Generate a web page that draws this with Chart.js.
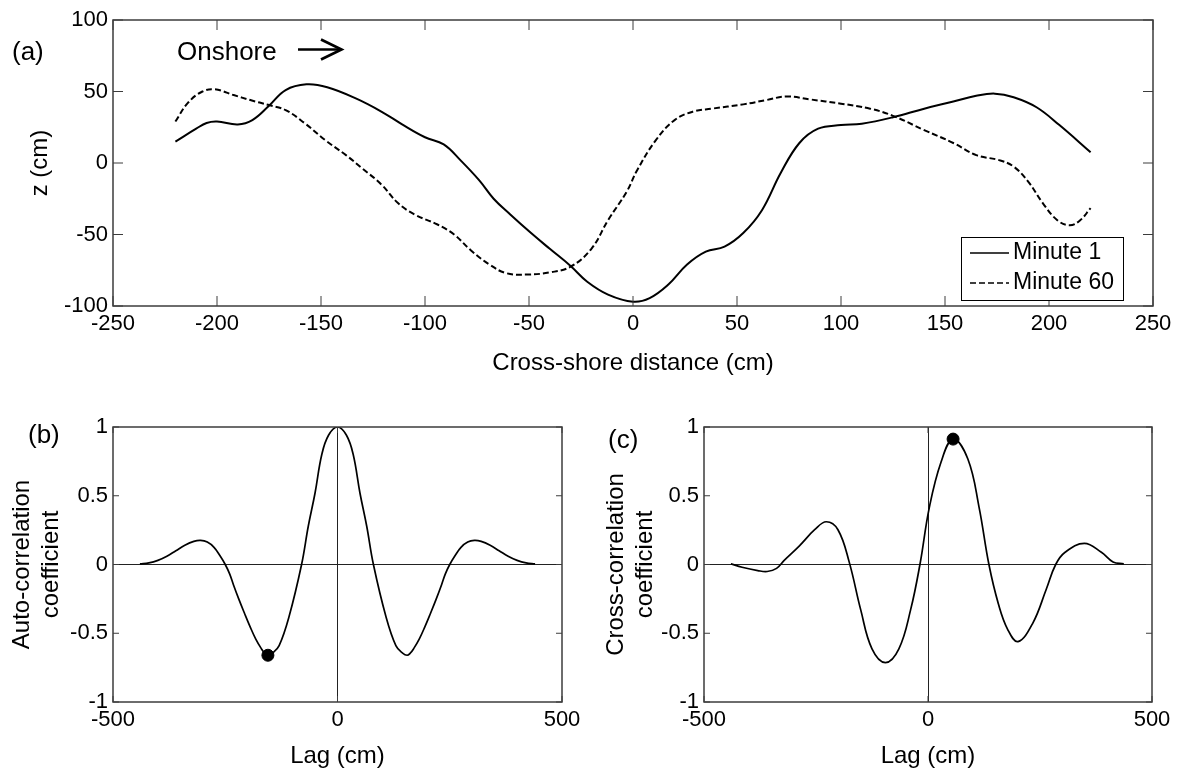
<!DOCTYPE html>
<html>
<head>
<meta charset="utf-8">
<script src="https://cdn.jsdelivr.net/npm/chart.js@4.4.0/dist/chart.umd.min.js"></script>
<style>
  body { margin: 0; background: #fff; width: 1189px; height: 771px; overflow: hidden; position: relative; font-family: "Liberation Sans", Arial, sans-serif; }
  canvas { position: absolute; }
  .lbl { position: absolute; font-size: 26px; color: #000; line-height: 1; white-space: nowrap; }
</style>
</head>
<body>
<canvas id="chartA" width="1189" height="385" style="left:0;top:0"></canvas>
<canvas id="chartB" width="590" height="381" style="left:0;top:390px"></canvas>
<canvas id="chartC" width="599" height="381" style="left:590px;top:390px"></canvas>
<div class="lbl" style="left:12px;top:38px">(a)</div>
<div class="lbl" style="left:177px;top:38px">Onshore</div>
<svg style="position:absolute;left:298px;top:37px" width="48" height="25">
  <line x1="0" y1="12.5" x2="43" y2="12.5" stroke="#000" stroke-width="2.7"/>
  <polyline points="23,2.5 43.5,12.5 23,22.5" fill="none" stroke="#000" stroke-width="2.7"/>
</svg>
<div class="lbl" style="left:28px;top:421px">(b)</div>
<div class="lbl" style="left:608px;top:426px">(c)</div>

<script>
// (a) beach profiles, cross-shore distance (cm) vs z (cm)
const xMinute1 = [-220,-210,-205,-200,-190,-183,-175,-167,-157,-147,-133,-121,-111,-100,-91,-83,-74,-67,-59,-49,-40,-30,-22,-12,0,8,17,26,35,44,53,62,71,80,89,100,110,125,140,154,165,174,183,194,205,220];
const zMinute1 = [15,24,28,29,27,30,40,51,55,53,45,36,27,18,13,2,-12,-25,-36,-49,-60,-72,-83,-92,-97,-94.5,-85,-71,-62,-58.5,-49,-33,-7,14,24,26.5,27.5,32,38,43,47,48.5,46,39,26.5,7.5];
const xMinute60 = [-220,-214,-207,-201,-192,-184,-175,-167,-158,-148,-138,-130,-121,-113,-105,-94,-86,-78,-69,-61,-51,-40,-30,-20,-12,-3,2,11,20,29,38,53,64,74,85,100,114,125,140,154,165,176,183,190,197,204,210,215,220];
const zMinute60 = [29,42,50,51.5,47.5,44,40.5,37,28,16,5.5,-4,-15,-28,-36,-43,-50,-61,-71,-77,-78,-76.5,-72.5,-60,-40,-20,-5,16,30,36,38,41,44,46.5,44.5,41.5,38,33,23,14,5.5,2,-2.5,-13,-28,-40,-43.5,-40,-31.5];
const seriesNames = ['Minute 1', 'Minute 60'];

// (b) auto-correlation
const lagB = [-440,-420,-400,-380,-360,-340,-320,-305,-290,-275,-262,-250,-240,-232,-220,-207,-195,-182,-170,-162,-155,-145,-130,-108,-80,-65,-50,-35,-20,0,20,35,50,65,80,108,130,145,155,162,170,182,195,207,220,232,240,250,262,275,290,305,320,340,360,380,400,420,440];
const rB = [0.005,0.012,0.03,0.06,0.1,0.14,0.168,0.175,0.163,0.125,0.065,0,-0.07,-0.145,-0.25,-0.356,-0.45,-0.543,-0.61,-0.645,-0.66,-0.645,-0.59,-0.38,0,0.28,0.52,0.8,0.94,1,0.94,0.8,0.52,0.28,0,-0.38,-0.59,-0.645,-0.66,-0.645,-0.61,-0.543,-0.45,-0.356,-0.25,-0.145,-0.07,0,0.065,0.125,0.163,0.175,0.168,0.14,0.1,0.06,0.03,0.012,0.005];
const peakB = [-155, -0.66];

// (c) cross-correlation
const lagC = [-440,-415,-380,-359,-338,-321,-287,-253,-227,-201,-176,-150,-125,-95,-65,-39,-18,3,29,56,89,114,136,157,178,201,234,264,285,306,349,387,413,437];
const rC = [0.005,-0.02,-0.044,-0.051,-0.028,0.03,0.136,0.253,0.311,0.253,0.019,-0.332,-0.613,-0.713,-0.613,-0.332,0,0.416,0.744,0.912,0.767,0.416,0,-0.285,-0.473,-0.561,-0.426,-0.18,0,0.089,0.154,0.089,0.019,0.005];
const peakC = [56, 0.912];

const FONT = '"Liberation Sans", Arial, sans-serif';
const pts = (xs, ys) => xs.map((v, i) => ({x: v, y: ys[i]}));

// border box + inward ticks on all four sides, like the original plot
const boxPlugin = {
  id: 'box',
  afterDatasetsDraw(chart, args, opts) {
    const {ctx, chartArea: a, scales} = chart;
    const len = opts.len || 6;
    ctx.save();
    ctx.strokeStyle = '#3c3c3c';
    ctx.lineWidth = 1.5;
    ctx.strokeRect(a.left, a.top, a.right - a.left, a.bottom - a.top);
    ctx.lineWidth = 1;
    ctx.beginPath();
    scales.x.ticks.forEach(t => {
      const p = scales.x.getPixelForValue(t.value);
      ctx.moveTo(p, a.bottom); ctx.lineTo(p, a.bottom - len);
      ctx.moveTo(p, a.top); ctx.lineTo(p, a.top + len);
    });
    scales.y.ticks.forEach(t => {
      const p = scales.y.getPixelForValue(t.value);
      ctx.moveTo(a.left, p); ctx.lineTo(a.left + len, p);
      ctx.moveTo(a.right, p); ctx.lineTo(a.right - len, p);
    });
    ctx.stroke();
    ctx.restore();
  }
};

const legendBox = {
  id: 'legendBox',
  afterDraw(chart, args, opts) {
    if (!opts.show) return;
    const ctx = chart.ctx;
    ctx.save();
    ctx.fillStyle = '#fff';
    ctx.fillRect(opts.x, opts.y, opts.w, opts.h);
    ctx.strokeStyle = '#000';
    ctx.lineWidth = 1;
    ctx.strokeRect(opts.x + 0.5, opts.y + 0.5, opts.w, opts.h);
    ctx.font = '23px ' + FONT;
    ctx.textBaseline = 'middle';
    ctx.fillStyle = '#000';
    chart.data.datasets.forEach((ds, i) => {
      const yy = opts.y + 16 + i * 30;
      ctx.beginPath();
      ctx.setLineDash(ds.borderDash || []);
      ctx.lineWidth = 1.5;
      ctx.moveTo(opts.x + 9, yy); ctx.lineTo(opts.x + 48, yy);
      ctx.stroke();
      ctx.setLineDash([]);
      ctx.fillText(ds.label, opts.x + 52, yy);
    });
    ctx.restore();
  }
};

function makeChart(id, datasets, cfg) {
  const zeroLine = c => (c.tick && c.tick.value === 0 && cfg.zeroLines) ? '#222' : 'rgba(0,0,0,0)';
  return new Chart(document.getElementById(id), {
    type: 'scatter',
    data: {datasets},
    options: {
      responsive: false,
      animation: false,
      devicePixelRatio: 1,
      layout: {padding: cfg.pad},
      plugins: {
        legend: {display: false},
        tooltip: {enabled: false},
        box: {len: cfg.tickLen},
        legendBox: cfg.legend || {show: false}
      },
      scales: {
        x: {
          type: 'linear', min: cfg.xMin, max: cfg.xMax,
          afterFit: s => { s.height = cfg.xH; },
          border: {display: false},
          grid: {drawTicks: false, color: zeroLine, lineWidth: 1},
          ticks: {stepSize: cfg.xStep, autoSkip: false, maxRotation: 0, padding: 5, color: '#000', font: {family: FONT, size: 22}, callback: v => String(v)},
          title: {display: true, text: cfg.xTitle, color: '#000', font: {family: FONT, size: 24}, padding: {top: 0, bottom: cfg.xTitlePad}}
        },
        y: {
          type: 'linear', min: cfg.yMin, max: cfg.yMax,
          afterFit: s => { s.width = cfg.yW; },
          border: {display: false},
          grid: {drawTicks: false, color: zeroLine, lineWidth: 1},
          ticks: {stepSize: cfg.yStep, autoSkip: false, padding: 5, color: '#000', font: {family: FONT, size: 22}, callback: v => String(v)},
          title: {display: true, text: cfg.yTitle, color: '#000', font: {family: FONT, size: 24}, padding: {top: cfg.yTitlePad, bottom: 0}}
        }
      }
    },
    plugins: [boxPlugin, legendBox]
  });
}

const lineStyle = {showLine: true, pointRadius: 0, borderColor: '#000', tension: 0.4};

makeChart('chartA', [
  Object.assign({label: seriesNames[0], data: pts(xMinute1, zMinute1), borderWidth: 2}, lineStyle),
  Object.assign({label: seriesNames[1], data: pts(xMinute60, zMinute60), borderWidth: 2, borderDash: [6, 3]}, lineStyle)
], {
  pad: {top: 20, right: 36, left: 0, bottom: 0},
  xMin: -250, xMax: 250, xStep: 50, xH: 79, xTitle: 'Cross-shore distance (cm)', xTitlePad: 7,
  yMin: -100, yMax: 100, yStep: 50, yW: 113, yTitle: 'z (cm)', yTitlePad: 26,
  tickLen: 10, zeroLines: false,
  legend: {show: true, x: 961, y: 237, w: 162, h: 63}
});

makeChart('chartB', [
  Object.assign({label: 'Auto-correlation', data: pts(lagB, rB), borderWidth: 1.7}, lineStyle),
  {label: 'peak', data: [{x: peakB[0], y: peakB[1]}], pointRadius: 6, backgroundColor: '#000', borderColor: '#000'}
], {
  pad: {top: 37, right: 28, left: 0, bottom: 0},
  xMin: -500, xMax: 500, xStep: 500, xH: 69, xTitle: 'Lag (cm)', xTitlePad: 0,
  yMin: -1, yMax: 1, yStep: 0.5, yW: 113, yTitle: ['Auto-correlation', 'coefficient'], yTitlePad: 8,
  tickLen: 6, zeroLines: true
});

makeChart('chartC', [
  Object.assign({label: 'Cross-correlation', data: pts(lagC, rC), borderWidth: 1.7}, lineStyle),
  {label: 'peak', data: [{x: peakC[0], y: peakC[1]}], pointRadius: 6, backgroundColor: '#000', borderColor: '#000'}
], {
  pad: {top: 37, right: 37, left: 0, bottom: 0},
  xMin: -500, xMax: 500, xStep: 500, xH: 69, xTitle: 'Lag (cm)', xTitlePad: 0,
  yMin: -1, yMax: 1, yStep: 0.5, yW: 114, yTitle: ['Cross-correlation', 'coefficient'], yTitlePad: 12,
  tickLen: 6, zeroLines: true
});
</script>
</body>
</html>
